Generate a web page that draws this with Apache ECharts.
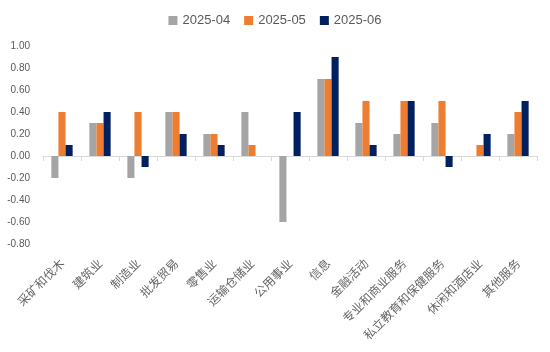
<!DOCTYPE html>
<html>
<head>
<meta charset="utf-8">
<script src="https://cdn.jsdelivr.net/npm/echarts@6/dist/echarts.min.js"></script>
<style>
html,body{margin:0;padding:0;background:#fff;}
#main{width:550px;height:352px;}
</style>
</head>
<body>
<div id="main"></div>
<script>
// 行业分类
var categories = ['采矿和伐木', '建筑业', '制造业', '批发贸易', '零售业', '运输仓储业', '公用事业', '信息', '金融活动', '专业和商业服务', '私立教育和保健服务', '休闲和酒店业', '其他服务'];
var seriesNames = ['2025-04', '2025-05', '2025-06'];
var apr = [-0.2, 0.3, -0.2, 0.4, 0.2, 0.4, -0.6, 0.7, 0.3, 0.2, 0.3, 0, 0.2];
var may = [0.4, 0.3, 0.4, 0.4, 0.2, 0.1, 0, 0.7, 0.5, 0.5, 0.5, 0.1, 0.4];
var jun = [0.1, 0.4, -0.1, 0.2, 0.1, 0, 0.4, 0.9, 0.1, 0.5, -0.1, 0.2, 0.5];
var colors = ['#A5A5A5', '#ED7D31', '#002060'];

var myChart = echarts.init(document.getElementById('main'));
var font = '"Liberation Sans", "Noto Sans CJK SC", sans-serif';

function bar(name, data, color) {
    return {
        name: name,
        type: 'bar',
        data: data,
        barGap: '0%',
        barCategoryGap: '44%',
        itemStyle: { color: color },
        emphasis: { disabled: true }
    };
}

var option = {
    animation: false,
    color: colors,
    textStyle: { fontFamily: font },
    legend: {
        top: 9,
        left: 'center',
        itemWidth: 9,
        itemHeight: 9,
        itemGap: 14,
        icon: 'rect',
        textStyle: { color: '#595959', fontSize: 13, fontFamily: font },
        data: seriesNames
    },
    grid: {
        left: 43,
        right: 13,
        top: 46,
        bottom: 108,
        containLabel: false
    },
    xAxis: {
        type: 'category',
        data: categories,
        axisLine: { onZero: true, lineStyle: { color: '#D9D9D9', width: 1 } },
        axisTick: { show: true, alignWithLabel: false, length: 5, lineStyle: { color: '#D9D9D9' } },
        axisLabel: {
            interval: 0,
            rotate: 45,
            margin: 17,
            color: '#666666',
            fontSize: 12,
            fontFamily: '"Noto Sans CJK SC", sans-serif'
        },
        splitLine: { show: false }
    },
    yAxis: {
        type: 'value',
        min: -0.8,
        max: 1.0,
        interval: 0.2,
        axisLine: { show: false },
        axisTick: { show: false },
        splitLine: { show: false },
        axisLabel: {
            color: '#595959',
            fontSize: 10,
            margin: 13,
            align: 'right',
            formatter: function (v) { return v.toFixed(2); }
        }
    },
    series: [
        bar(seriesNames[0], apr, colors[0]),
        bar(seriesNames[1], may, colors[1]),
        bar(seriesNames[2], jun, colors[2])
    ]
};
myChart.setOption(option);
</script>
</body>
</html>
